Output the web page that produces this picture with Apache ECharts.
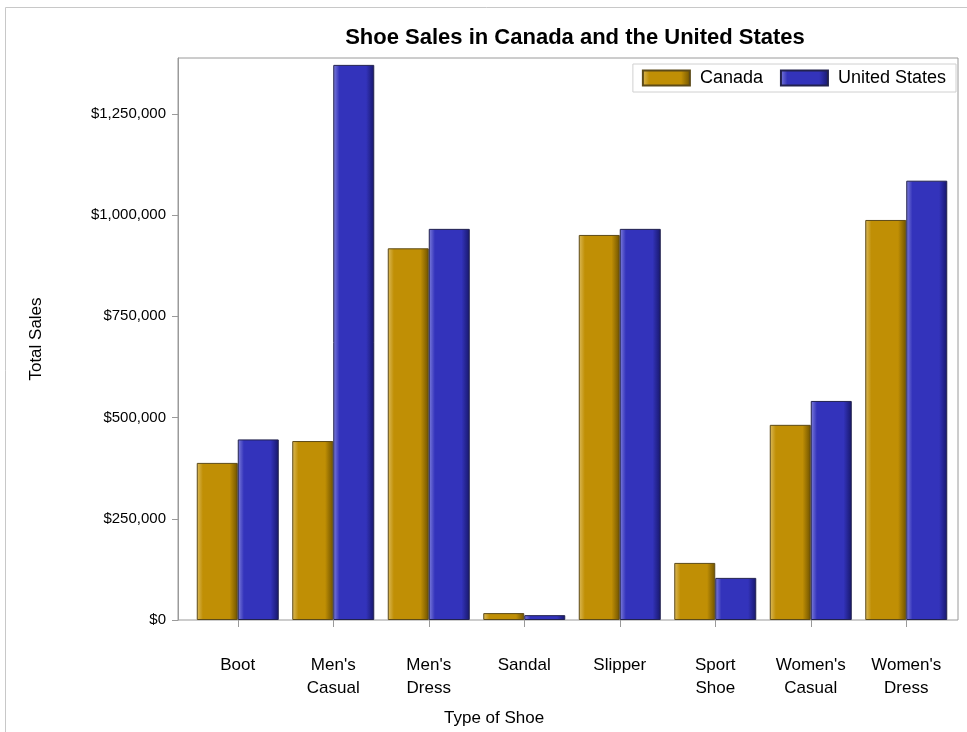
<!DOCTYPE html>
<html>
<head>
<meta charset="utf-8">
<script src="https://cdn.jsdelivr.net/npm/echarts@6/dist/echarts.min.js"></script>
<style>
  html, body { margin: 0; padding: 0; background: #fff; }
  #chart { width: 967px; height: 732px; }
</style>
</head>
<body>
<div id="chart"></div>
<script>
// Shoe types along the x axis
const categories = ['Boot', "Men's Casual", "Men's Dress", 'Sandal', 'Slipper', 'Sport Shoe', "Women's Casual", "Women's Dress"];
// Total sales per region
const canadaSales = [388000, 442000, 918000, 17000, 951000, 141000, 482000, 988000];
const usSales = [446000, 1371000, 966000, 12000, 966000, 104000, 541000, 1085000];
const seriesNames = ['Canada', 'United States'];
// Value axis range and ticks
const yMin = 0;
const yMax = 1388000;
const yStep = 250000;

const FONT = "'Liberation Sans', Arial, sans-serif";

function barGradient(light, base, dark) {
  return new echarts.graphic.LinearGradient(0, 0, 1, 0, [
    { offset: 0, color: light },
    { offset: 0.15, color: base },
    { offset: 0.8, color: base },
    { offset: 1, color: dark }
  ]);
}

const chart = echarts.init(document.getElementById('chart'), null, { renderer: 'canvas' });

const fmtMoney = v => '$' + Number(v).toLocaleString('en-US');

chart.setOption({
  animation: false,
  backgroundColor: '#ffffff',
  title: {
    text: 'Shoe Sales in Canada and the United States',
    left: 570,
    top: 22,
    textAlign: 'center',
    textStyle: { fontFamily: FONT, fontSize: 22, fontWeight: 'bold', color: '#000' }
  },
  legend: {
    data: seriesNames,
    right: 11,
    top: 64,
    icon: 'rect',
    itemWidth: 47,
    itemHeight: 15,
    itemGap: 17,
    padding: [5, 10, 5, 9],
    borderColor: '#d0d0d0',
    borderWidth: 1,
    backgroundColor: '#fff',
    textStyle: { fontFamily: FONT, fontSize: 18, color: '#000', padding: [0, 0, 0, 5] }
  },
  grid: [
    { left: 178, right: 9, top: 58, bottom: 112, show: true, borderColor: '#9a9a9a', borderWidth: 1, containLabel: false },
    { left: 190, right: 13, top: 58, bottom: 112, containLabel: false }
  ],
  xAxis: [
    { gridIndex: 0, type: 'value', show: false, min: 0, max: 1 },
    {
      gridIndex: 1,
      type: 'category',
      data: categories,
      axisLine: { show: false },
      axisTick: { show: true, alignWithLabel: true, length: 7, lineStyle: { color: '#9a9a9a' } },
      axisLabel: {
        margin: 34,
        fontFamily: FONT,
        fontSize: 17,
        color: '#000',
        lineHeight: 23,
        interval: 0,
        formatter: s => s.replace(' ', '\n')
      }
    }
  ],
  yAxis: [
    {
      gridIndex: 0,
      type: 'value',
      min: yMin,
      max: yMax,
      interval: yStep,
      name: 'Total Sales',
      nameLocation: 'middle',
      nameGap: 133,
      nameTextStyle: { fontFamily: FONT, fontSize: 17, color: '#000' },
      axisLine: { show: true, lineStyle: { color: '#9a9a9a' } },
      axisTick: { show: true, length: 6, lineStyle: { color: '#9a9a9a' } },
      splitLine: { show: false },
      axisLabel: {
        showMaxLabel: false,
        margin: 12,
        fontFamily: FONT,
        fontSize: 15,
        color: '#000',
        formatter: fmtMoney
      }
    },
    { gridIndex: 1, type: 'value', min: yMin, max: yMax, interval: yStep, show: false }
  ],
  series: [
    {
      name: seriesNames[0],
      type: 'bar',
      xAxisIndex: 1,
      yAxisIndex: 1,
      data: canadaSales,
      barWidth: 41,
      barGap: '0%',
      itemStyle: {
        color: barGradient('#dcbb5c', '#c08f05', '#6e5200'),
        borderColor: '#5c4a18',
        borderWidth: 1
      }
    },
    {
      name: seriesNames[1],
      type: 'bar',
      xAxisIndex: 1,
      yAxisIndex: 1,
      data: usSales,
      barWidth: 41,
      barGap: '0%',
      itemStyle: {
        color: barGradient('#8080dc', '#3333bb', '#17176a'),
        borderColor: '#22224e',
        borderWidth: 1
      }
    }
  ],
  graphic: [
    {
      type: 'rect',
      shape: { x: 5.5, y: 7.5, width: 1000, height: 800 },
      style: { fill: 'none', stroke: '#c8c8c8', lineWidth: 1 },
      silent: true
    },
    {
      type: 'text',
      left: 444,
      top: 710,
      style: { text: 'Type of Shoe', fontFamily: FONT, fontSize: 17, fill: '#000' }
    }
  ]
});
</script>
</body>
</html>
